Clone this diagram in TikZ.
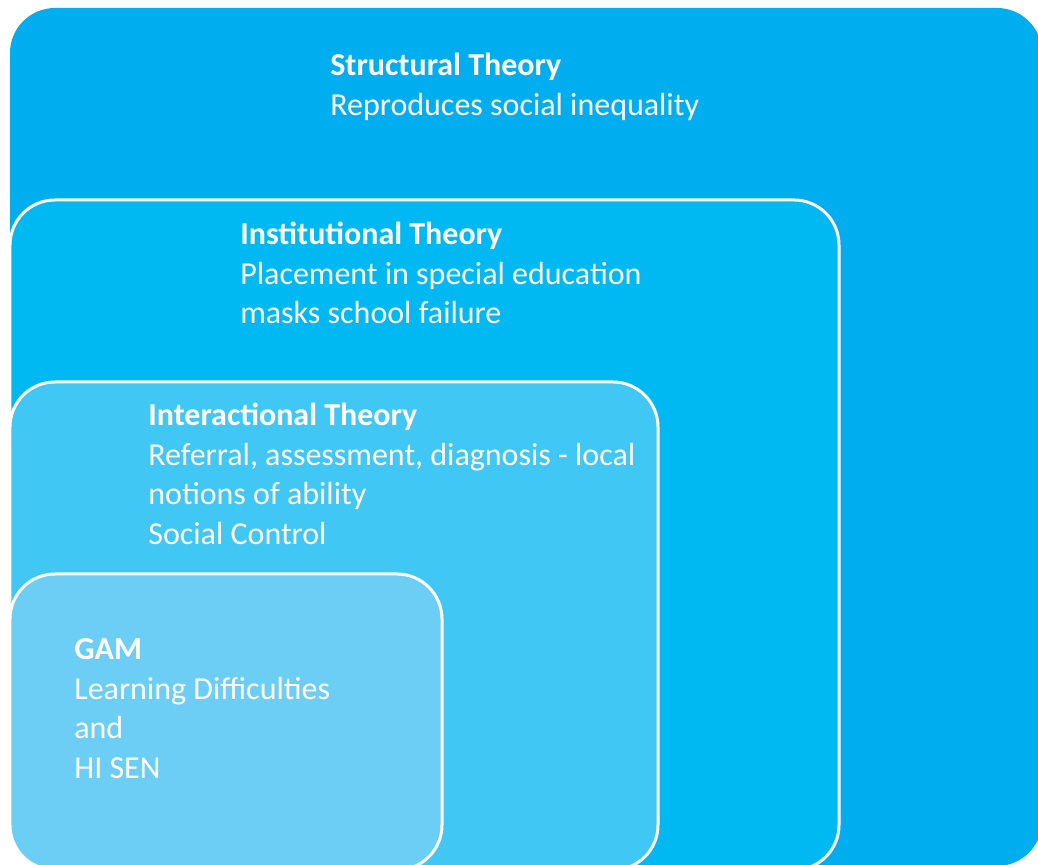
\documentclass[tikz,border=0pt]{standalone}
\usepackage{fontspec}
\setmainfont{Carlito}

\definecolor{structblue}{HTML}{00AEEF}
\definecolor{instblue}{HTML}{00B9F2}
\definecolor{interblue}{HTML}{40C7F4}
\definecolor{gamblue}{HTML}{6DCEF5}

\tikzset{
    layer/.style={draw=white, line width=1.7pt, rounded corners=0.9cm},
    theorytext/.style={anchor=north west, inner sep=0pt, align=left, text=white,
        font=\fontsize{18.2}{22.5}\selectfont}
}

\begin{document}
\begin{tikzpicture}
    \useasboundingbox (0, 0) rectangle (20.76, 17.3);
    \clip (0, 0) rectangle (20.76, 17.3);

    % nested layers, outermost first
    \fill[structblue, rounded corners=0.9cm] (0.2, -0.02) rectangle (20.84, 17.14);
    \draw[layer, fill=instblue] (0.2, -0.1) rectangle (16.78, 13.3);
    \draw[layer, fill=interblue] (0.2, -0.1) rectangle (13.16, 9.66);
    \draw[layer, fill=gamblue] (0.2, -0.1) rectangle (8.84, 5.82);

    \node[theorytext] (structural) at (6.6, 16.35)
        {\strut\textbf{Structural Theory}\\Reproduces social inequality};
    \node[theorytext] (institutional) at (4.8, 12.97)
        {\strut\textbf{Institutional Theory}\\Placement in special education\\masks school failure};
    \node[theorytext] (interactional) at (2.96, 9.35)
        {\strut\textbf{Interactional Theory}\\Referral, assessment, diagnosis - local\\notions of ability\\Social Control};
    \node[theorytext] (gam) at (1.48, 4.67)
        {\strut\textbf{GAM}\\Learning Difficulties\\and\\HI SEN};
\end{tikzpicture}
\end{document}
